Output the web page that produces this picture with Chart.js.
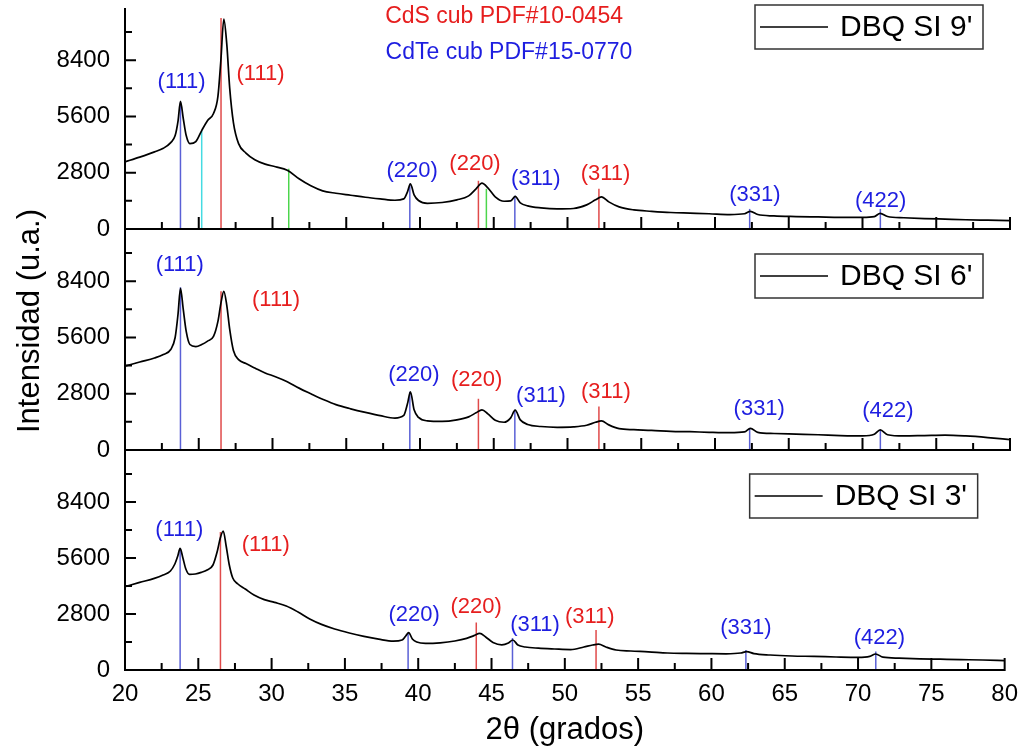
<!doctype html>
<html lang="es">
<head>
<meta charset="utf-8">
<title>DRX – DBQ SI</title>
<style>
  *{margin:0;padding:0;box-sizing:border-box}
  html,body{background:#fff}
  body{width:1028px;height:748px;overflow:hidden}
  #wrap{position:relative;width:1028px;height:748px}
  .panel{position:absolute;left:0;width:1028px}
</style>
</head>
<body>
<div id="wrap">
  <div class="panel" style="top:0;height:250px"><canvas id="p9"></canvas></div>
  <div class="panel" style="top:180px;height:290px"><canvas id="p6"></canvas></div>
  <div class="panel" style="top:436px;height:312px"><canvas id="p3"></canvas></div>
</div>

<script src="https://cdn.jsdelivr.net/npm/chart.js"></script>
<script>
// 2theta grid (deg) shared by the three patterns
const tt = [20,21,22,22.6,23.1,23.4,23.6,23.76,23.95,24.15,24.4,24.8,25.2,25.6,26.0,26.3,26.5,26.7,26.9,27.1,
  27.35,27.7,28.2,28.8,29.5,30.2,31.0,31.8,32.6,33.4,34.3,35.3,36.3,37.3,38.3,38.9,39.15,39.35,39.6,39.9,
  40.5,41.5,42.5,43.3,43.8,44.2,44.6,45.1,45.7,46.15,46.45,46.8,47.3,48.2,49.3,50.4,51.3,51.9,52.3,52.8,
  53.5,54.5,55.7,57.0,58.3,59.6,61.0,62.0,62.4,62.9,64.0,65.5,67.0,68.5,70.0,70.8,71.2,71.7,72.8,74.2,
  75.6,77.0,78.5,80];

// intensities (u.a.)
const si9 = [3340,3580,3840,4020,4300,4650,5400,6350,5500,4650,4250,4350,4900,5400,5750,6600,8400,10450,9200,7000,
  5300,4250,3780,3450,3230,3100,2930,2500,2150,1900,1780,1680,1580,1500,1430,1500,1850,2250,1700,1420,
  1280,1320,1450,1650,2000,2280,2050,1600,1380,1400,1620,1300,1150,1050,1000,1020,1200,1450,1600,1350,
  1100,950,880,820,790,760,720,760,880,720,650,620,600,580,580,620,780,620,560,520,
  490,460,440,420];
const si6 = [4170,4380,4580,4750,5000,5600,6800,8050,7000,5900,5250,5150,5250,5420,5650,6400,7300,7900,7200,6000,
  4950,4500,4300,4080,3830,3650,3400,3080,2800,2530,2260,2050,1870,1710,1590,1720,2300,2900,2000,1620,
  1450,1420,1500,1650,1850,2000,1800,1480,1380,1600,1980,1500,1270,1170,1130,1150,1230,1380,1450,1250,
  1060,1010,980,930,910,880,860,900,1080,880,820,790,760,720,700,780,1000,760,700,720,
  740,700,620,520];
const si3 = [4170,4380,4580,4750,4950,5300,5700,6080,5600,5050,4780,4800,4880,5000,5250,5950,6600,6950,6200,5300,
  4600,4300,4050,3750,3520,3380,3200,2900,2550,2280,2050,1850,1680,1540,1440,1500,1700,1870,1550,1400,
  1330,1360,1450,1580,1720,1830,1650,1380,1260,1350,1500,1250,1150,1090,1050,1020,1150,1250,1290,1150,
  1000,950,910,850,830,820,810,850,920,820,750,700,680,650,630,680,800,640,590,560,
  540,520,500,470];

// reference reflections
const cdteHkl = ['(111)','(220)','(311)','(331)','(422)'];
const cdtePos = [23.76,39.31,46.43,62.35,71.21];
const cdsHkl  = ['(111)','(220)','(311)'];
const cdsPos  = [26.51,43.96,52.13];
const cyanPos9 = [25.2],  cyanTop9 = [4900];
const greenPos9 = [31.1,44.5], greenTop9 = [3000,2000];

// stick heights per pattern
const cdteTop9 = [6300,2250,1650,1000,1000], cdsTop9 = [10500,2400,2000];
const cdteTop6 = [8100,2900,2000,1100,1000], cdsTop6 = [7900,2550,2170];
const cdteTop3 = [6100,1850,1600,1000,920],  cdsTop3 = [6900,2370,2000];

// where the (hkl) tags sit, in 2theta / intensity
const cdteTag9 = [[23.84,7300],[39.47,2880],[47.85,2470],[62.71,1720],[71.23,1420]];
const cdsTag9  = [[29.19,7700],[43.73,3260],[52.58,2760]];
const cdteTag6 = [[23.71,9200],[39.59,3750],[48.2,2670],[63.0,2050],[71.72,1960]];
const cdsTag6  = [[30.24,7460],[43.84,3500],[52.6,2875]];
const cdteTag3 = [[23.71,7000],[39.72,2750],[47.97,2250],[62.35,2120],[71.46,1620]];
const cdsTag3  = [[29.6,6250],[43.95,3170],[51.7,2630]];

const xMajor = [20,25,30,35,40,45,50,55,60,65,70,75,80];
const xMinor = [22.5,27.5,32.5,37.5,42.5,47.5,52.5,57.5,62.5,67.5,72.5,77.5];
const yMajor = [0,2800,5600,8400];
const yMinor = [1400,4200,7000,9800];

const FONT = '"Liberation Sans", Arial, sans-serif';
const BLUE_T='#1e1ee0', RED_T='#e61e1e', BLUE_L='#5a60d6', RED_L='#e04a4a', CYAN_L='#45dbe2', GREEN_L='#4cd64c';

// axes with inward ticks, hkl tags, legend box and titles
const frame = { id:'frame', afterDatasetsDraw(c, args, o){
  const {ctx, chartArea:a, scales:{x,y}} = c;
  ctx.save();
  ctx.strokeStyle='#000'; ctx.lineWidth=2;
  ctx.beginPath();
  ctx.moveTo(a.left,a.top); ctx.lineTo(a.left,a.bottom); ctx.lineTo(a.right+1,a.bottom);
  xMajor.forEach(v=>{const p=x.getPixelForValue(v);ctx.moveTo(p,a.bottom);ctx.lineTo(p,a.bottom-12);});
  xMinor.forEach(v=>{const p=x.getPixelForValue(v);ctx.moveTo(p,a.bottom);ctx.lineTo(p,a.bottom-7);});
  yMajor.forEach(v=>{const p=y.getPixelForValue(v);ctx.moveTo(a.left,p);ctx.lineTo(a.left+11,p);});
  yMinor.forEach(v=>{const p=y.getPixelForValue(v);ctx.moveTo(a.left,p);ctx.lineTo(a.left+7,p);});
  ctx.stroke();

  ctx.textAlign='center'; ctx.textBaseline='middle';
  o.tags.forEach(t=>{ctx.font=`${t.f||22}px ${FONT}`;ctx.fillStyle=t.c;
    ctx.fillText(t.s,x.getPixelForValue(t.x),y.getPixelForValue(t.y));});

  // legend
  const lx=a.right-255, ly=a.top+o.legendDy;
  ctx.strokeStyle='#333'; ctx.lineWidth=1.5; ctx.strokeRect(lx,ly,228,44);
  ctx.strokeStyle='#000'; ctx.lineWidth=1.3;
  ctx.beginPath(); ctx.moveTo(lx+5,ly+22); ctx.lineTo(lx+73,ly+22); ctx.stroke();
  ctx.fillStyle='#000'; ctx.textAlign='left'; ctx.font=`30px ${FONT}`;
  ctx.fillText(o.legend,lx+85,ly+23);

  if(o.yTitle){
    ctx.save(); ctx.translate(30,a.top+92); ctx.rotate(-Math.PI/2);
    ctx.textAlign='center'; ctx.font=`31px ${FONT}`; ctx.fillText(o.yTitle,0,0); ctx.restore();
  }
  if(o.xTitle){
    ctx.textAlign='center'; ctx.textBaseline='alphabetic'; ctx.font=`31px ${FONT}`;
    ctx.fillText(o.xTitle,(a.left+a.right)/2,a.bottom+69);
  }
  ctx.restore();
}};

function stick(x,top,color){
  return {data:[{x:x,y:0},{x:x,y:top}],borderColor:color,borderWidth:1.5,pointRadius:0,order:2};
}

function panel(id, cfg){
  const ds=[{data:tt.map((v,i)=>({x:v,y:cfg.curve[i]})),borderColor:'#000',borderWidth:1.7,pointRadius:0,
    cubicInterpolationMode:'monotone',order:1}];
  cdtePos.forEach((p,i)=>ds.push(stick(p,cfg.cdteTop[i],BLUE_L)));
  cdsPos.forEach((p,i)=>ds.push(stick(p,cfg.cdsTop[i],RED_L)));
  (cfg.extra||[]).forEach(e=>ds.push(stick(e[0],e[1],e[2])));

  const tags=[];
  cfg.cdteTag.forEach((t,i)=>tags.push({s:cdteHkl[i],x:t[0],y:t[1],c:BLUE_T}));
  cfg.cdsTag.forEach((t,i)=>tags.push({s:cdsHkl[i],x:t[0],y:t[1],c:RED_T}));
  (cfg.head||[]).forEach(t=>tags.push(t));

  return new Chart(document.getElementById(id),{type:'line',data:{datasets:ds},plugins:[frame],
    options:{animation:false,responsive:true,maintainAspectRatio:false,
      layout:{padding:cfg.pad},
      plugins:{legend:{display:false},tooltip:{enabled:false},
        frame:{tags:tags,legend:cfg.legend,legendDy:cfg.legendDy,yTitle:cfg.yTitle,xTitle:cfg.xTitle}},
      scales:{
        x:{type:'linear',min:20,max:80,display:!!cfg.xLabels,
          grid:{display:false,drawTicks:false},border:{display:false},
          ticks:{font:{size:24,family:FONT},color:'#000',padding:10,maxRotation:0,callback:v=>String(v)},
          afterBuildTicks:s=>{s.ticks=xMajor.map(v=>({value:v}));},
          afterFit:s=>{if(cfg.xLabels)s.height=78;}},
        y:{type:'linear',min:0,max:11000,
          grid:{display:false,drawTicks:false},border:{display:false},
          ticks:{font:{size:24,family:FONT},color:'#000',padding:15,callback:v=>String(v)},
          afterBuildTicks:s=>{s.ticks=yMajor.map(v=>({value:v}));},
          afterFit:s=>{s.width=125;s.paddingTop=0;s.paddingBottom=0;}}
      }}});
}

panel('p9',{curve:si9,cdteTop:cdteTop9,cdsTop:cdsTop9,cdteTag:cdteTag9,cdsTag:cdsTag9,
  extra:[[cyanPos9[0],cyanTop9[0],CYAN_L],[greenPos9[0],greenTop9[0],GREEN_L],[greenPos9[1],greenTop9[1],GREEN_L]],
  head:[{s:'CdS cub PDF#10-0454',x:45.7,y:10575,c:RED_T,f:23},{s:'CdTe cub PDF#15-0770',x:46.03,y:8760,c:BLUE_T,f:23}],
  legend:"DBQ SI 9'",legendDy:-3,pad:{top:8,right:18,bottom:21,left:0}});
panel('p6',{curve:si6,cdteTop:cdteTop6,cdsTop:cdsTop6,cdteTag:cdteTag6,cdsTag:cdsTag6,
  legend:"DBQ SI 6'",legendDy:25,yTitle:'Intensidad (u.a.)',pad:{top:49,right:18,bottom:20,left:0}});
panel('p3',{curve:si3,cdteTop:cdteTop3,cdsTop:cdsTop3,cdteTag:cdteTag3,cdsTag:cdsTag3,
  legend:"DBQ SI 3'",legendDy:24,xTitle:'2θ (grados)',xLabels:true,pad:{top:14,right:18,bottom:0,left:0}});
</script>
</body>
</html>
